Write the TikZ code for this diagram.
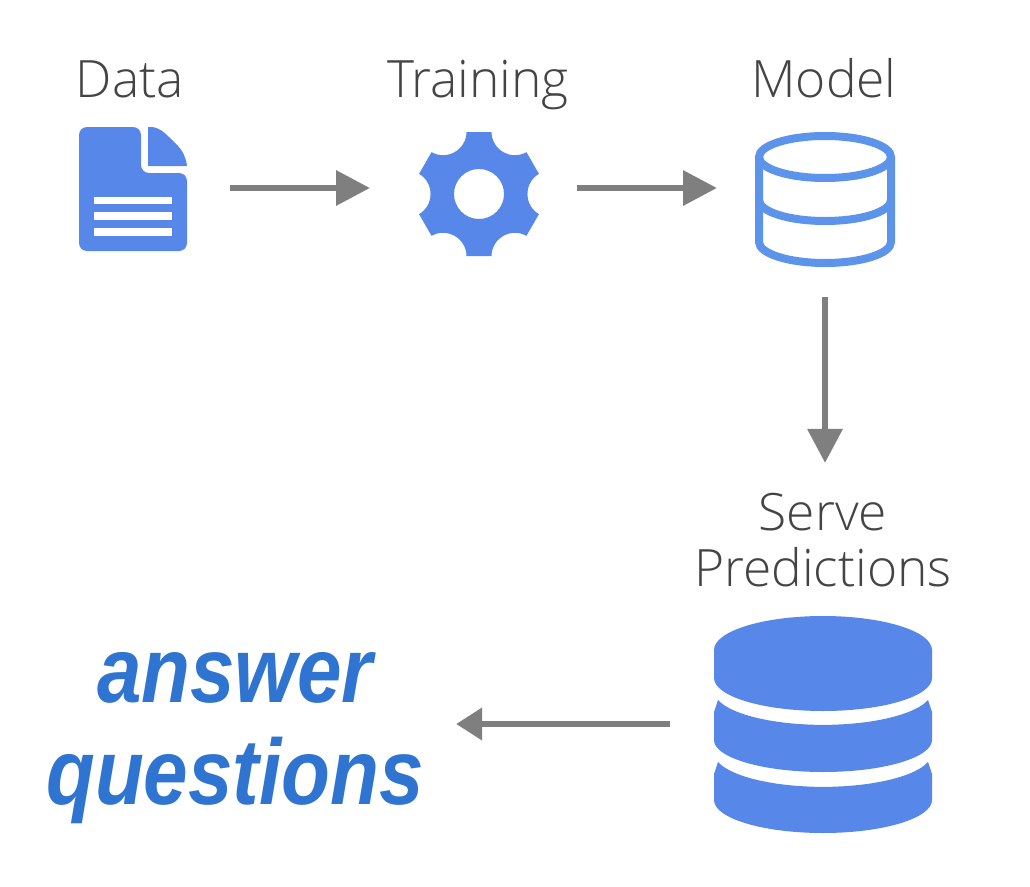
\documentclass[tikz,border=0pt]{standalone}
\usepackage{fontspec}
\setmainfont{Open Sans}[UprightFont=* Light]
\newfontfamily\answerfont{Liberation Sans}[FakeStretch=0.86]
\usetikzlibrary{arrows.meta}
\definecolor{iconblue}{HTML}{5787E8}
\definecolor{ringblue}{HTML}{5C93EB}
\definecolor{textblue}{HTML}{2F74D0}
\definecolor{labelgrey}{HTML}{444444}
\definecolor{arrowgrey}{HTML}{7F7F7F}
\tikzset{
  iconbox/.style={inner sep=0pt,outer sep=0pt},
  steplabel/.style={text=labelgrey,font=\fontsize{51.5}{56}\selectfont,inner sep=0pt},
  flowarrow/.style={-{Triangle[length=34pt,width=34pt]},line width=6.5pt,draw=arrowgrey},
}
\begin{document}
\begin{tikzpicture}[x=1pt,y=-1pt]
\useasboundingbox (0,0) rectangle (1030,886);
\node[steplabel,anchor=base] (datalabel) at (130,97) {Data};
\node[steplabel,anchor=base] (trainlabel) at (478,97) {Training};
\node[steplabel,anchor=base] (modellabel) at (824,97) {Model};
\node[steplabel,align=center] (serve) at (823,540) {Serve\\Predictions};
\node[text=textblue,font=\fontsize{93}{102}\selectfont\answerfont\bfseries\itshape,align=center,inner sep=0pt] (answer) at (235,738) {answer\\questions};
\node[iconbox,minimum width=108,minimum height=124] (data) at (133,188) {};
\node[iconbox,minimum width=120,minimum height=136] (training) at (479,188) {};
\node[iconbox,minimum width=140,minimum height=158] (model) at (825,188) {};
\node[iconbox,minimum width=218,minimum height=216] (db) at (823,724) {};
\fill[iconblue,rounded corners=8pt] (141,127) -- (79,127) -- (79,251) -- (187,251) -- (187,173) -- (141,173) -- cycle;
\fill[iconblue] (148,127) -- (152,127) .. controls (160,128) and (165,133) .. (169,137) -- (178,146) .. controls (183,151) and (186,158) .. (187,166) -- (148,166) -- cycle;
\fill[white] (94,197) rectangle (172,204);
\fill[white] (94,212) rectangle (172,220);
\fill[white] (94,228) rectangle (172,236);
\fill[iconblue,even odd rule,shift={(479,194)}] (-101.4:63.25)
  \foreach \a in {0,60,...,300} { -- (\a-101.4:63.25) -- (\a-78.6:63.25) .. controls (\a-74:46) and (\a-46:46) .. (\a-41.4:63.25) }
  -- cycle (0,0) circle (25);
\draw[ringblue,line width=8pt] (825,157) ellipse [x radius=66,y radius=21];
\draw[ringblue,line width=8pt] (759,157) -- (759,242) arc[start angle=180,end angle=0,x radius=66,y radius=21] -- (891,157);
\draw[ringblue,line width=8pt] (759,200) arc[start angle=180,end angle=0,x radius=66,y radius=21];
\fill[iconblue] (714,650) arc[start angle=180,end angle=360,x radius=109,y radius=34] -- (932,678) arc[start angle=0,end angle=180,x radius=109,y radius=33] -- cycle;
\fill[iconblue] (928,700) arc[start angle=15.6,end angle=164.4,x radius=109,y radius=34] -- (714,712) -- (714,740) arc[start angle=180,end angle=0,x radius=109,y radius=32] -- (932,712) -- cycle;
\fill[iconblue] (928,762) arc[start angle=15.6,end angle=164.4,x radius=109,y radius=34] -- (714,774) -- (714,800) arc[start angle=180,end angle=0,x radius=109,y radius=33] -- (932,774) -- cycle;
\draw[flowarrow,shorten <=43pt,shorten >=49pt] (data) -- (training);
\draw[flowarrow,shorten <=38pt,shorten >=38pt] (training) -- (model);
\draw[flowarrow,shorten <=30pt,shorten >=30pt] (model.south) -- (model.south |- serve.north);
\draw[flowarrow,-{Triangle[length=26pt,width=31pt]},shorten <=44pt,shorten >=32pt] (db) -- (answer.east |- db);
\end{tikzpicture}
\end{document}
